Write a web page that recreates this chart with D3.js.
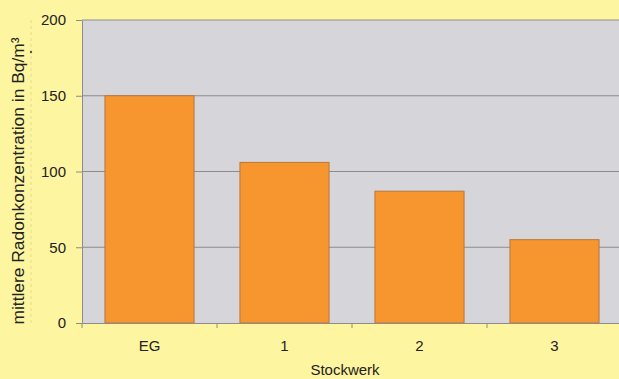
<!DOCTYPE html>
<html>
<head>
<meta charset="utf-8">
<script src="https://cdn.jsdelivr.net/npm/d3@7"></script>
<style>
  body { margin: 0; background: #fdf59f; }
  text { font-family: "Liberation Sans", Arial, sans-serif; fill: #222; }
</style>
</head>
<body>
<div id="chart"></div>
<script>
const floors = ['EG', '1', '2', '3'];
const radon = [150, 106, 87, 55];
const yTicks = [0, 50, 100, 150, 200];

const w = 619, h = 379;
const plotLeft = 82, plotRight = 622, plotTop = 20, plotBottom = 323;

const svg = d3.select('#chart').append('svg')
  .attr('width', w).attr('height', h);

svg.append('rect').attr('width', w).attr('height', h).attr('fill', '#fdf59f');

const x = d3.scaleBand()
  .domain(floors)
  .range([plotLeft, plotRight])
  .paddingInner(0.34)
  .paddingOuter(0.17);

const y = d3.scaleLinear()
  .domain([0, 200])
  .range([plotBottom, plotTop]);

// plot area
svg.append('rect')
  .attr('x', plotLeft).attr('y', plotTop)
  .attr('width', plotRight - plotLeft).attr('height', plotBottom - plotTop)
  .attr('fill', '#d6d6da');

// gridlines
svg.append('g')
  .selectAll('line')
  .data(yTicks.filter(d => d > 0))
  .enter().append('line')
  .attr('x1', plotLeft).attr('x2', plotRight)
  .attr('y1', d => y(d)).attr('y2', d => y(d))
  .attr('stroke', '#8c8c8e').attr('stroke-width', 1);

// faint dashed guide at left
svg.append('line')
  .attr('x1', 31).attr('x2', 31).attr('y1', 20).attr('y2', 325)
  .attr('stroke', '#e6dc8e').attr('stroke-dasharray', '3,3');
svg.append('circle').attr('cx', 31).attr('cy', 52).attr('r', 1.2).attr('fill', '#555');

// bars
svg.selectAll('.bar')
  .data(radon)
  .enter().append('rect')
  .attr('class', 'bar')
  .attr('x', (d, i) => x(floors[i]))
  .attr('y', d => y(d))
  .attr('width', x.bandwidth())
  .attr('height', d => plotBottom - y(d))
  .attr('fill', '#f7962f')
  .attr('stroke', '#b9763c')
  .attr('stroke-width', 1);

// y axis
const yAxis = d3.axisLeft(y).tickValues(yTicks).tickSize(6).tickSizeOuter(0).tickPadding(10);
const gy = svg.append('g').attr('transform', `translate(${plotLeft},0)`).call(yAxis);
gy.select('.domain').attr('stroke', '#8c8c8e');
gy.selectAll('.tick line').attr('stroke', '#8c8c8e');
gy.selectAll('.tick text').style('font-size', '15px').attr('fill', '#222');

// x axis
const xAxis = d3.axisBottom(x).tickSize(0).tickPadding(0);
const gx = svg.append('g').attr('transform', `translate(0,${plotBottom})`).call(xAxis);
gx.select('.domain').attr('stroke', '#8c8c8e');
gx.selectAll('.tick text').attr('dy', '1.85em').style('font-size', '15px').attr('fill', '#222');
gx.selectAll('.boundary')
  .data(floors)
  .enter().append('line')
  .attr('x1', d => x(d) - x.step() * x.paddingOuter())
  .attr('x2', d => x(d) - x.step() * x.paddingOuter())
  .attr('y1', 0).attr('y2', 5)
  .attr('stroke', '#8c8c8e');

// axis titles
svg.append('text')
  .attr('transform', 'translate(24,181) rotate(-90)')
  .attr('text-anchor', 'middle')
  .style('font-size', '17.4px')
  .text('mittlere Radonkonzentration in Bq/m³');

svg.append('text')
  .attr('x', 345).attr('y', 375)
  .attr('text-anchor', 'middle')
  .style('font-size', '15px')
  .text('Stockwerk');
</script>
</body>
</html>
